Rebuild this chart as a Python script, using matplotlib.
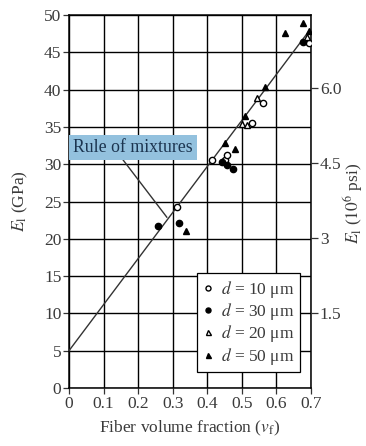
import matplotlib
matplotlib.use('Agg')
import matplotlib.pyplot as plt

plt.rcParams.update({
    'font.family': ['Liberation Serif', 'DejaVu Serif'],
    'mathtext.fontset': 'stix',
    'font.size': 12,
})

# rule of mixtures line (GPa)
rule_vf = [0.0, 0.7]
rule_E = [5.0, 48.2]

# d = 10 um, open circles
d10_vf = [0.312, 0.413, 0.451, 0.457, 0.530, 0.562, 0.694]
d10_E = [24.3, 30.6, 30.5, 31.3, 35.5, 38.2, 46.3]
# d = 30 um, filled circles
d30_vf = [0.258, 0.318, 0.442, 0.457, 0.474, 0.677]
d30_E = [21.7, 22.1, 30.3, 29.9, 29.3, 46.4]
# d = 20 um, open triangles
d20_vf = [0.500, 0.515, 0.543, 0.690]
d20_E = [35.4, 35.3, 38.9, 47.0]
# d = 50 um, filled triangles
d50_vf = [0.338, 0.451, 0.480, 0.509, 0.567, 0.625, 0.677, 0.694]
d50_E = [21.0, 32.8, 32.0, 36.5, 40.3, 47.6, 48.9, 47.9]

x_ticks = [0, 0.1, 0.2, 0.3, 0.4, 0.5, 0.6, 0.7]
x_labels = ['0', '0.1', '0.2', '0.3', '0.4', '0.5', '0.6', '0.7']
y_ticks = [0, 5, 10, 15, 20, 25, 30, 35, 40, 45, 50]
psi_ticks = [1.5, 3, 4.5, 6.0]
psi_labels = ['1.5', '3', '4.5', '6.0']
GPA_PER_MSI = 6.7  # as drawn in the source figure

TXT = '#3a3a3a'

fig = plt.figure(figsize=(3.66, 4.46), dpi=100)
ax = fig.add_axes([0.1885, 0.130, 0.661, 0.8364])

ax.set_xlim(0, 0.7)
ax.set_ylim(0, 50)
ax.set_xticks(x_ticks)
ax.set_xticklabels(x_labels)
ax.set_yticks(y_ticks)
ax.grid(True, color='black', linewidth=1.0)
ax.set_axisbelow(True)
for s in ax.spines.values():
    s.set_linewidth(1.1)
ax.tick_params(direction='out', length=4, width=0.9, color='#333333', labelcolor=TXT,
               labelsize=12.5, pad=1.5)

ax.plot(rule_vf, rule_E, color='#333333', linewidth=1.0, zorder=3)

ms = 4.5
h10, = ax.plot(d10_vf, d10_E, 'o', ms=ms, mfc='white', mec='black', mew=1.0, ls='none', zorder=4)
h30, = ax.plot(d30_vf, d30_E, 'o', ms=ms, mfc='black', mec='black', ls='none', zorder=4)
h20, = ax.plot(d20_vf, d20_E, '^', ms=ms, mfc='white', mec='black', mew=1.0, ls='none', zorder=4)
h50, = ax.plot(d50_vf, d50_E, '^', ms=ms, mfc='black', mec='black', ls='none', zorder=4)

leg = ax.legend([h10, h30, h20, h50],
                [r'$d$ = 10 μm', r'$d$ = 30 μm', r'$d$ = 20 μm', r'$d$ = 50 μm'],
                loc='lower right', bbox_to_anchor=(0.955, 0.043), fontsize=12.5,
                frameon=True, fancybox=False, edgecolor='black', framealpha=1,
                handlelength=0.7, handletextpad=0.4, borderpad=0.3, labelspacing=0.08,
                borderaxespad=0, markerscale=0.8)
leg.get_frame().set_linewidth(0.9)
leg.set_zorder(6)
for t in leg.get_texts():
    t.set_color(TXT)

# Rule of mixtures label with leader line
ax.plot([0.156, 0.283], [30.6, 22.9], color='#333333', linewidth=1.0, zorder=3)
ax.text(0.012, 32.25, 'Rule of mixtures', fontsize=12.8, color='#1c3550', va='center', ha='left',
        zorder=7, bbox=dict(boxstyle='square,pad=0.22', fc='#93c1de', ec='none'))

ax.set_xlabel(r'Fiber volume fraction ($v_{\rm f}$)', fontsize=12.5, color=TXT, labelpad=5)

ax2 = ax.twinx()
ax2.set_ylim(0, 50)
ax2.set_yticks([v * GPA_PER_MSI for v in psi_ticks])
ax2.set_yticklabels(psi_labels)
ax2.tick_params(direction='out', length=5, width=0.9, color='#333333', labelcolor=TXT,
                labelsize=12.5, pad=1.5)
for s in ax2.spines.values():
    s.set_visible(False)

fig.text(20 / 366, 1 - 201 / 446, r'$E_{\rm l}$ (GPa)', rotation=90, ha='center', va='center',
         fontsize=12.5, color=TXT)
fig.text(353 / 366, 1 - 203 / 446, r'$E_{\rm l}$ ($10^6$ psi)', rotation=90, ha='center',
         va='center', fontsize=12.5, color=TXT)

fig.savefig('out.png', dpi=100)
